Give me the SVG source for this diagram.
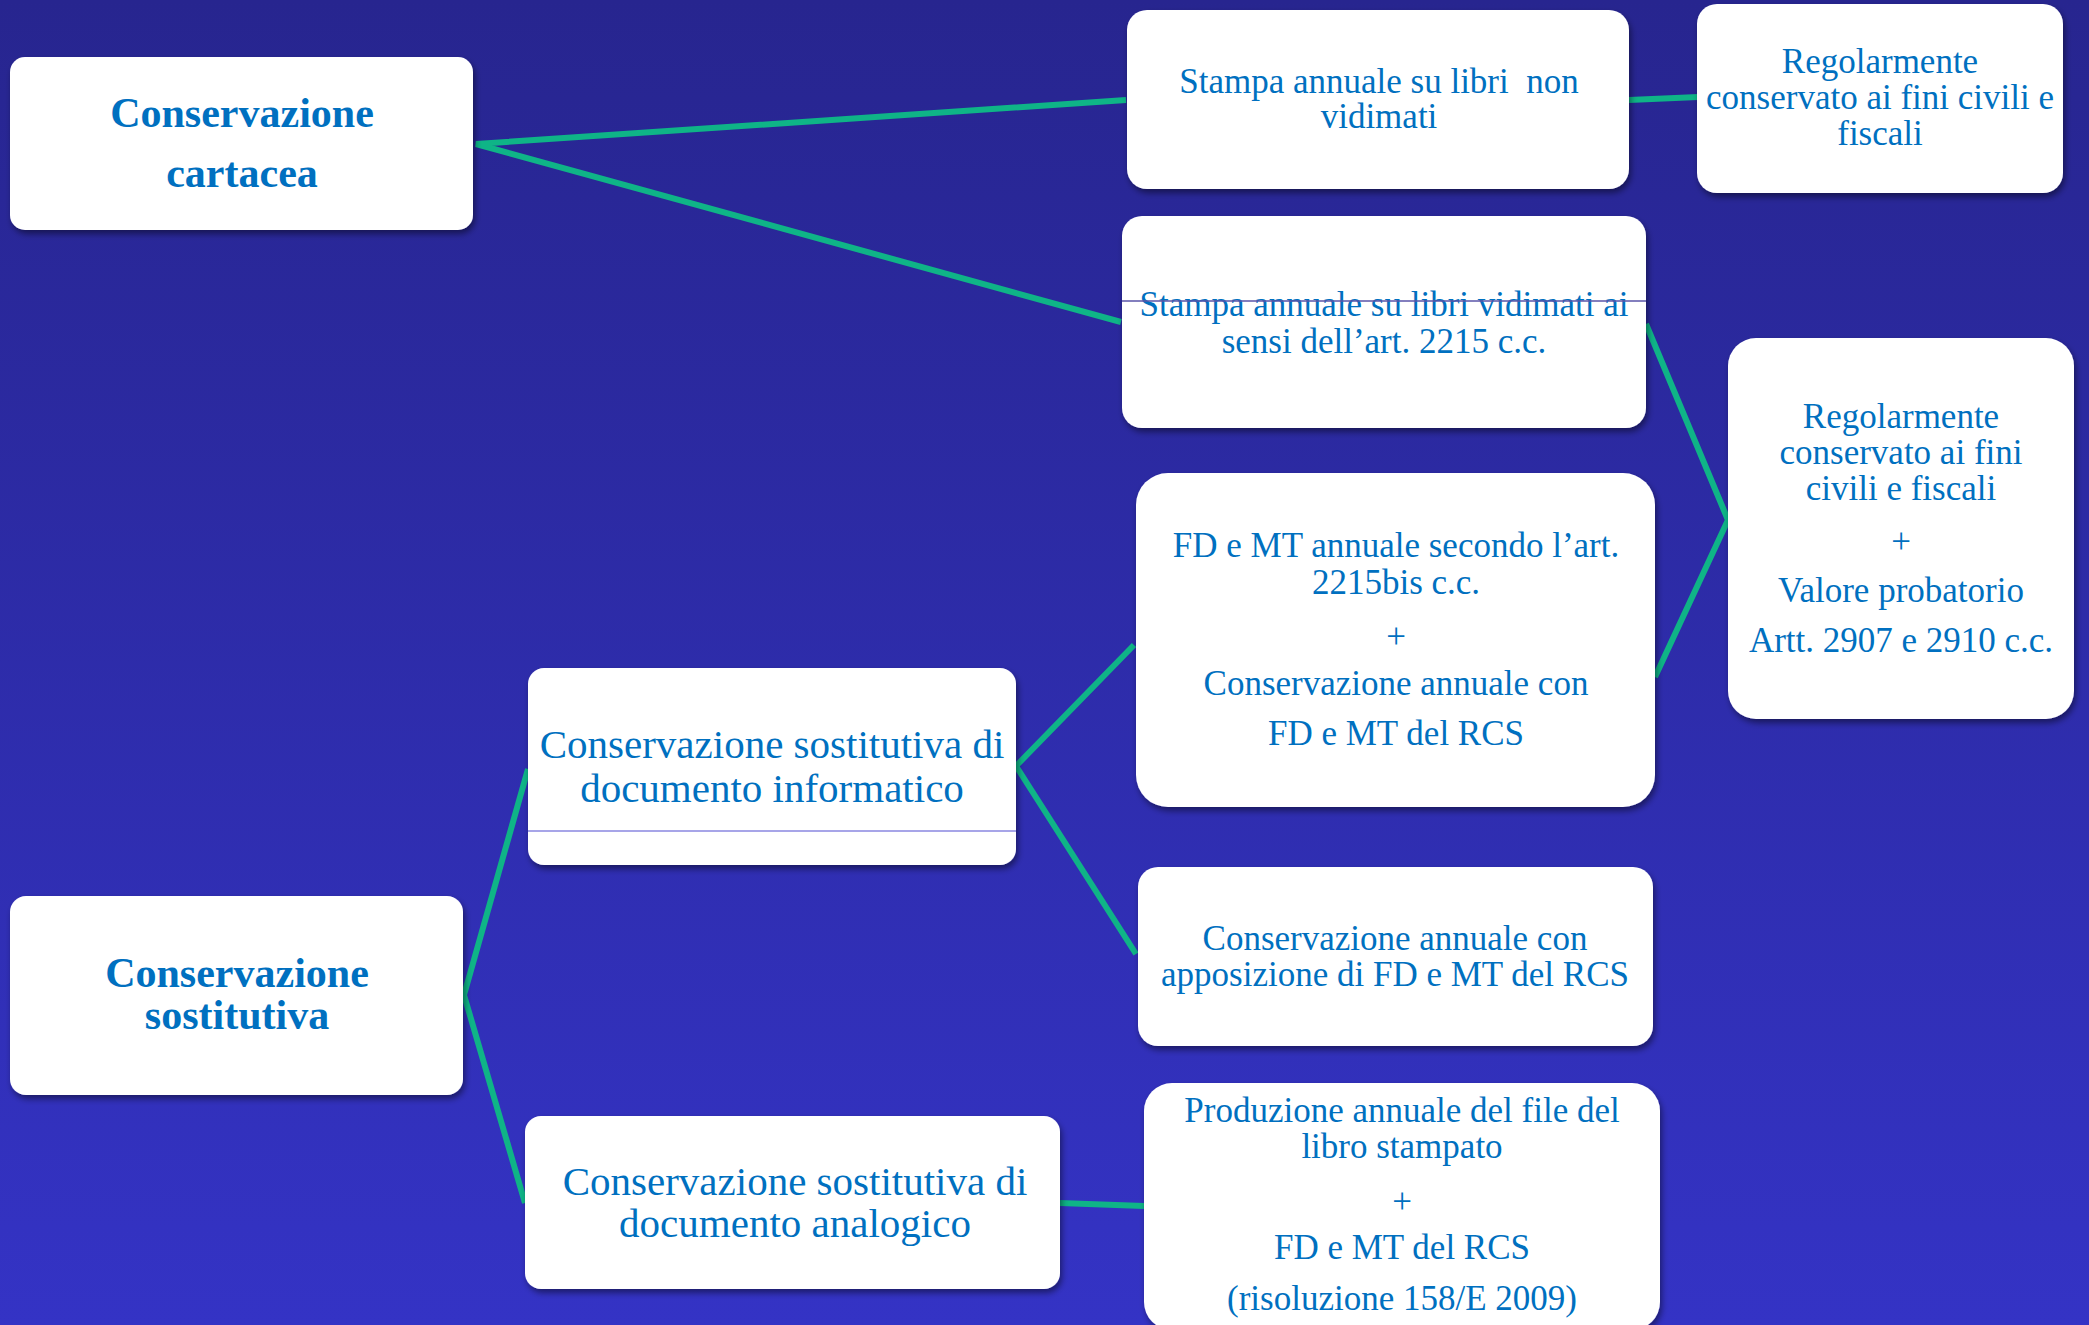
<svg xmlns="http://www.w3.org/2000/svg" width="2089" height="1325" viewBox="0 0 2089 1325">
  <defs>
    <linearGradient id="bg" x1="0" y1="0" x2="0" y2="1">
      <stop offset="0" stop-color="#27258f"/>
      <stop offset="1" stop-color="#3433c5"/>
    </linearGradient>
    <filter id="sh" x="-10%" y="-10%" width="120%" height="125%">
      <feDropShadow dx="2" dy="4" stdDeviation="3" flood-color="#000" flood-opacity="0.45"/>
    </filter>
  </defs>
  <style>
    .box { fill: #ffffff; filter: url(#sh); }
    .t { font-family: "Liberation Serif", "Times New Roman", serif; font-size: 35px; fill: #0070c0; text-anchor: middle; }
    .tm { font-family: "Liberation Serif", "Times New Roman", serif; font-size: 41px; fill: #0070c0; text-anchor: middle; }
    .tb { font-family: "Liberation Serif", "Times New Roman", serif; font-size: 42px; font-weight: bold; fill: #0070c0; text-anchor: middle; }
    .con { stroke: #0fb487; stroke-width: 6; fill: none; stroke-linejoin: miter; }
  </style>
  <rect x="0" y="0" width="2089" height="1325" fill="url(#bg)"/>

  <g id="connectors">
    <polyline class="con" points="1126,100 476,144 1121,322"/>
    <line class="con" x1="1629" y1="100" x2="1698" y2="97"/>
    <polyline class="con" points="1646,324 1728,520 1655,677"/>
    <polyline class="con" points="1134,645 1016,766 1136,954"/>
    <polyline class="con" points="528,769 464,995 525,1203"/>
    <line class="con" x1="1060" y1="1203" x2="1144" y2="1206"/>
  </g>

  <g id="n-cartacea">
    <rect class="box" x="10" y="57" width="463" height="173" rx="15"/>
    <text class="tb" x="242" y="127">Conservazione</text>
    <text class="tb" x="242" y="187">cartacea</text>
  </g>

  <g id="n-stampa-non-vidimati">
    <rect class="box" x="1127" y="10" width="502" height="179" rx="20"/>
    <text class="t" x="1379" y="93">Stampa annuale su libri &#160;non</text>
    <text class="t" x="1379" y="128">vidimati</text>
  </g>

  <g id="n-regolarmente-1">
    <rect class="box" x="1697" y="4" width="366" height="189" rx="20"/>
    <text class="t" x="1880" y="73">Regolarmente</text>
    <text class="t" x="1880" y="109">conservato ai fini civili e</text>
    <text class="t" x="1880" y="145">fiscali</text>
  </g>

  <g id="n-stampa-vidimati">
    <rect class="box" x="1122" y="216" width="524" height="212" rx="20"/>
    <text class="t" x="1384" y="316">Stampa annuale su libri vidimati ai</text>
    <text class="t" x="1384" y="353">sensi dell’art. 2215 c.c.</text>
    <line x1="1122" y1="301" x2="1646" y2="301" stroke="#5a55a8" stroke-width="1.5"/>
  </g>

  <g id="n-regolarmente-2">
    <rect class="box" x="1728" y="338" width="346" height="381" rx="28"/>
    <text class="t" x="1901" y="428">Regolarmente</text>
    <text class="t" x="1901" y="464">conservato ai fini</text>
    <text class="t" x="1901" y="500">civili e fiscali</text>
    <text class="t" x="1901" y="553">+</text>
    <text class="t" x="1901" y="602">Valore probatorio</text>
    <text class="t" x="1901" y="652">Artt. 2907 e 2910 c.c.</text>
  </g>

  <g id="n-fd-mt">
    <rect class="box" x="1136" y="473" width="519" height="334" rx="32"/>
    <text class="t" x="1396" y="557">FD e MT annuale secondo l’art.</text>
    <text class="t" x="1396" y="594">2215bis c.c.</text>
    <text class="t" x="1396" y="648">+</text>
    <text class="t" x="1396" y="695">Conservazione annuale con</text>
    <text class="t" x="1396" y="745">FD e MT del RCS</text>
  </g>

  <g id="n-informatico">
    <rect class="box" x="528" y="668" width="488" height="197" rx="16"/>
    <text class="tm" x="772" y="758">Conservazione sostitutiva di</text>
    <text class="tm" x="772" y="802">documento informatico</text>
    <line x1="528" y1="831" x2="1016" y2="831" stroke="#8a87e0" stroke-width="1.5"/>
  </g>

  <g id="n-apposizione">
    <rect class="box" x="1138" y="867" width="515" height="179" rx="20"/>
    <text class="t" x="1395" y="950">Conservazione annuale con</text>
    <text class="t" x="1395" y="986">apposizione di FD e MT del RCS</text>
  </g>

  <g id="n-sostitutiva">
    <rect class="box" x="10" y="896" width="453" height="199" rx="16"/>
    <text class="tb" x="237" y="987">Conservazione</text>
    <text class="tb" x="237" y="1029">sostitutiva</text>
  </g>

  <g id="n-analogico">
    <rect class="box" x="525" y="1116" width="535" height="173" rx="16"/>
    <text class="tm" x="795" y="1195">Conservazione sostitutiva di</text>
    <text class="tm" x="795" y="1237">documento analogico</text>
  </g>

  <g id="n-produzione">
    <rect class="box" x="1144" y="1083" width="516" height="247" rx="28"/>
    <text class="t" x="1402" y="1122">Produzione annuale del file del</text>
    <text class="t" x="1402" y="1158">libro stampato</text>
    <text class="t" x="1402" y="1213">+</text>
    <text class="t" x="1402" y="1259">FD e MT del RCS</text>
    <text class="t" x="1402" y="1310">(risoluzione 158/E 2009)</text>
  </g>
</svg>
